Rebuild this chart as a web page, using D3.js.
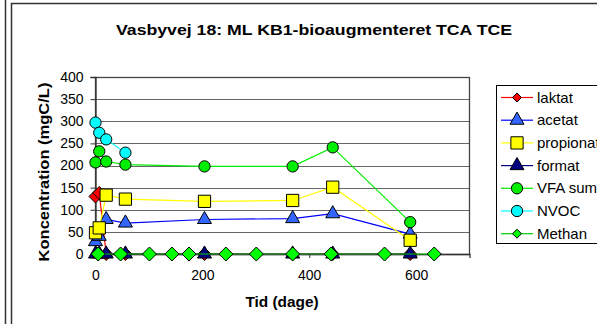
<!DOCTYPE html>
<html>
<head>
<meta charset="utf-8">
<script src="https://cdn.jsdelivr.net/npm/d3@7"></script>
<style>
  body { margin: 0; background: #fff; }
  svg { font-family: "Liberation Sans", Arial, sans-serif; }
</style>
</head>
<body>
<svg id="chart" width="597" height="324"></svg>
<script>
// data (days, mgC/L)
const tider = [0, 7, 20, 56, 204, 369, 444, 589];
const laktat = [130, 138, 0, 0, 0, 0, 0, 0];
const acetat = [28, 40, 78, 70, 78, 80, 91, 45];
const propionat = [48, 59, 133, 124, 119, 121, 151, 31];
const format = [0, 0, 0, 0, 0, 0, 0, 0];
const vfaSum = [207, 232, 209, 202, 198, 198, 241, 72];
const nvocTider = [0, 7, 20, 56];
const nvoc = [297, 274, 259, 229];
const methanTider = [5, 47, 101, 143, 175, 244, 301, 369, 441, 541, 634];
const methan = [0, 0, 0, 0, 0, 0, 0, 0, 0, 0, 0];
const yTicks = [0, 50, 100, 150, 200, 250, 300, 350, 400];
const xTicks = [0, 200, 400, 600];

const serier = [
  { navn: "laktat", x: tider, y: laktat, linje: "#ff0000", fyld: "#ff0000", form: "diamond", str: 6.5 },
  { navn: "acetat", x: tider, y: acetat, linje: "#0000ff", fyld: "#3366ff", form: "triangle" },
  { navn: "propionat", x: tider, y: propionat, linje: "#ffff00", fyld: "#ffff00", form: "square" },
  { navn: "format", x: tider, y: format, linje: "#000080", fyld: "#000080", form: "triangle" },
  { navn: "VFA sum", x: tider, y: vfaSum, linje: "#00ee00", fyld: "#00ee00", form: "circle" },
  { navn: "NVOC", x: nvocTider, y: nvoc, linje: "#00ffff", fyld: "#00ffff", form: "circle" },
  { navn: "Methan", x: methanTider, y: methan, linje: "#00cc00", fyld: "#00ff00", form: "diamond", str: 7 }
];

const svg = d3.select("#chart");

// outer frames
svg.append("line").attr("x1", 5.5).attr("x2", 5.5).attr("y1", 0).attr("y2", 324)
  .attr("stroke", "#333").attr("stroke-width", 1.5);
svg.append("rect").attr("x", 11.5).attr("y", 3.5).attr("width", 600).attr("height", 340)
  .attr("fill", "#fff").attr("stroke", "#333").attr("stroke-width", 1.5);

const margin = { top: 77, left: 95.5, width: 374, height: 177 };

const x = d3.scaleLinear().domain([0, 700]).range([margin.left, margin.left + margin.width]);
const y = d3.scaleLinear().domain([0, 400]).range([margin.top + margin.height, margin.top]);

// gridlines
svg.append("g")
  .selectAll("line")
  .data(yTicks.filter(d => d > 0))
  .enter()
  .append("line")
  .attr("x1", x(0)).attr("x2", x(700))
  .attr("y1", d => Math.round(y(d)) + 0.5).attr("y2", d => Math.round(y(d)) + 0.5)
  .attr("stroke", "#666").attr("stroke-width", 1);

// plot frame
svg.append("rect")
  .attr("x", x(0)).attr("y", Math.round(y(400)) + 0.5)
  .attr("width", x(700) - x(0)).attr("height", y(0) - y(400))
  .attr("fill", "none").attr("stroke", "#444").attr("stroke-width", 1.3);

// axes
const yAxis = svg.append("g")
  .attr("transform", `translate(${x(0)},0)`)
  .call(d3.axisLeft(y).tickValues(yTicks).tickSize(5).tickPadding(7));
const xAxis = svg.append("g")
  .attr("transform", `translate(0,${y(0)})`)
  .call(d3.axisBottom(x).tickValues(xTicks).tickSize(4).tickPadding(12));
[yAxis, xAxis].forEach(a => {
  a.select(".domain").attr("stroke", "#333").attr("stroke-width", 1.3);
  a.selectAll(".tick line").attr("stroke", "#333");
  a.selectAll("text").attr("font-size", "14px").attr("fill", "#000")
    .attr("font-family", "Liberation Sans, Arial, sans-serif");
});

// titles (Excel draws these a bit wider, hence the x-scale)
svg.append("text")
  .attr("transform", "translate(314,35) scale(1.18,1)")
  .attr("text-anchor", "middle")
  .attr("font-size", "15px").attr("font-weight", "bold")
  .text("Vasbyvej 18: ML KB1-bioaugmenteret TCA TCE");
svg.append("text")
  .attr("transform", "translate(49,172) rotate(-90) scale(1.18,1)")
  .attr("text-anchor", "middle")
  .attr("font-size", "14px").attr("font-weight", "bold")
  .text("Koncentration (mgC/L)");
svg.append("text")
  .attr("transform", "translate(282,307) scale(1.1,1)")
  .attr("text-anchor", "middle")
  .attr("font-size", "14px").attr("font-weight", "bold")
  .text("Tid (dage)");

function symbolPath(form, r) {
  if (form === "circle") return d3.symbol(d3.symbolCircle, 100)();
  if (form === "square") return d3.symbol(d3.symbolSquare, 150)();
  if (form === "triangle") return d3.symbol(d3.symbolTriangle, 85)();
  return `M0,${-r}L${r},0L0,${r}L${-r},0Z`;
}

function tegnMarker(g, s, cx, cy, r) {
  g.append("path")
    .attr("d", symbolPath(s.form, r || s.str))
    .attr("transform", `translate(${cx},${cy})`)
    .attr("fill", s.fyld)
    .attr("stroke", "#000").attr("stroke-width", 1);
}

const linje = d3.line().x(d => x(d[0])).y(d => y(d[1]));
const plot = svg.append("g");

serier.forEach(s => {
  const punkter = s.x.map((t, i) => [t, s.y[i]]);
  plot.append("path")
    .datum(punkter)
    .attr("d", linje)
    .attr("fill", "none")
    .attr("stroke", s.linje)
    .attr("stroke-width", 1.2);
  const g = plot.append("g");
  punkter.forEach(p => tegnMarker(g, s, x(p[0]), y(p[1])));
});

// legend
const leg = svg.append("g");
leg.append("rect")
  .attr("x", 496.5).attr("y", 85.5).attr("width", 130).attr("height", 158)
  .attr("fill", "#fff").attr("stroke", "#000").attr("stroke-width", 1);
serier.forEach((s, i) => {
  const ly = 97.5 + i * 22.7;
  leg.append("line")
    .attr("x1", 501).attr("x2", 533).attr("y1", ly).attr("y2", ly)
    .attr("stroke", s.linje).attr("stroke-width", 1.2);
  tegnMarker(leg, s, 517, ly, 4.5);
  leg.append("text")
    .attr("x", 537).attr("y", ly + 5)
    .attr("font-size", "15px")
    .text(s.navn);
});
</script>
</body>
</html>
